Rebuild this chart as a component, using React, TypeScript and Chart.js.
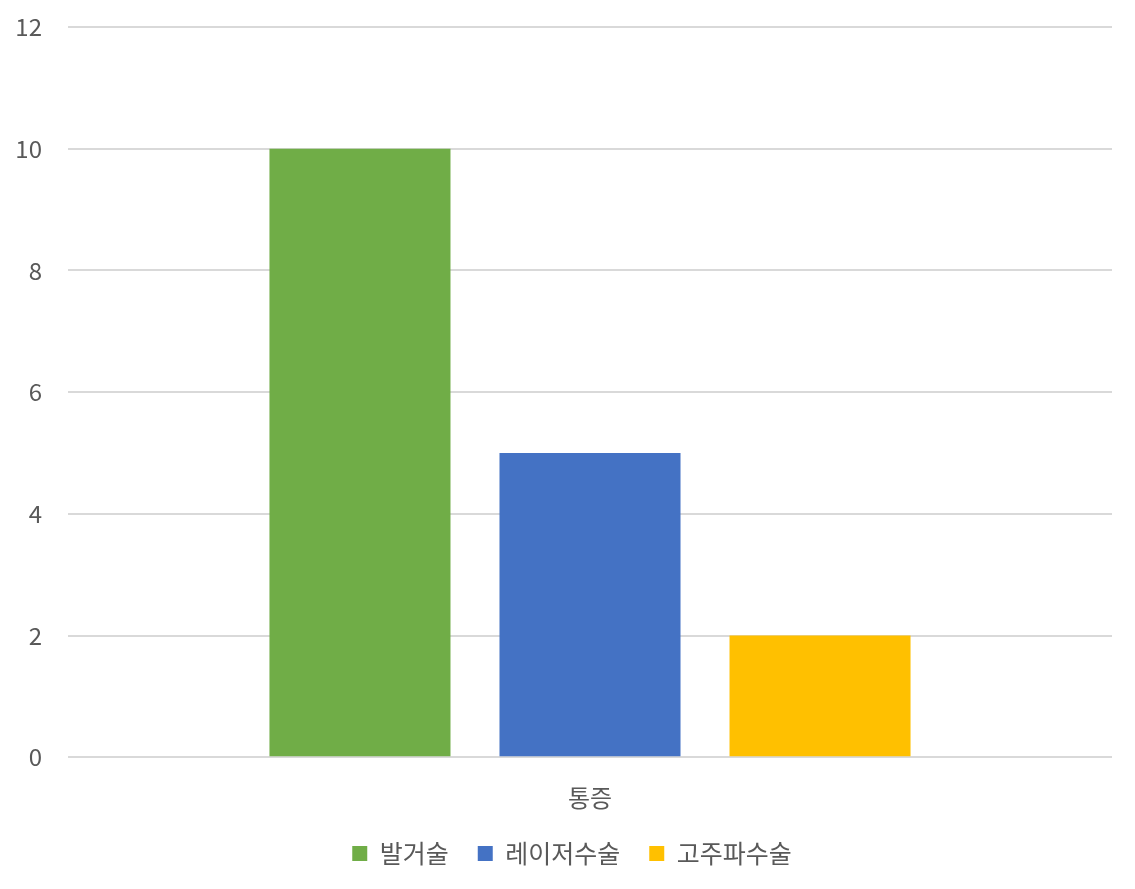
import { useEffect, useRef } from "react";
import { Chart } from "chart.js/auto";
import type { ChartConfiguration, Plugin } from "chart.js/auto";

const categories = ["통증"];
const seriesNames = ["발거술", "레이저수술", "고주파수술"];
const seriesValues = [[10], [5], [2]];
const seriesColors = ["#70AD47", "#4472C4", "#FFC000"];
const yTicks = [0, 2, 4, 6, 8, 10, 12];

const FONT = "'Noto Sans CJK KR', 'Noto Sans', sans-serif";
const TEXT = "#595959";

// the legend in the original sits a little right of the plot centre
const legendShift: Plugin = {
  id: "legendShift",
  afterLayout(chart) {
    const legend: any = (chart as any).legend;
    if (!legend) return;
    legend.left += 16;
    legend.right += 16;
  },
};

export default function App() {
  const canvasRef = useRef<HTMLCanvasElement>(null);
  const chartRef = useRef<Chart | null>(null);

  useEffect(() => {
    if (!canvasRef.current) return;
    if (chartRef.current) chartRef.current.destroy();

    const config: ChartConfiguration = {
      type: "bar",
      data: {
        labels: categories,
        datasets: seriesNames.map((name, i) => ({
          label: name,
          data: seriesValues[i],
          backgroundColor: seriesColors[i],
          barPercentage: 0.787,
          categoryPercentage: 0.661,
        })),
      },
      options: {
        animation: false,
        responsive: true,
        maintainAspectRatio: false,
        layout: { padding: { top: 27, right: 23, bottom: 13, left: 0 } },
        scales: {
          x: {
            afterFit: (scale: any) => {
              // pull the legend closer to the category label
              scale.height -= 18;
            },
            grid: { display: false },
            border: { display: false },
            ticks: {
              color: TEXT,
              font: { family: FONT, size: 24 },
              padding: 18,
            },
          },
          y: {
            min: yTicks[0],
            max: yTicks[yTicks.length - 1],
            afterFit: (scale: any) => {
              scale.width = 68;
              scale.paddingTop = 0;
              scale.paddingBottom = 0;
            },
            afterBuildTicks: (scale: any) => {
              scale.ticks = yTicks.map((v) => ({ value: v }));
            },
            grid: { color: "#D9D9D9", lineWidth: 2, drawTicks: false },
            border: { display: false },
            ticks: {
              color: TEXT,
              font: { family: FONT, size: 24 },
              padding: 26,
            },
          },
        },
        plugins: {
          legend: {
            position: "bottom",
            labels: {
              color: TEXT,
              font: { family: FONT, size: 25 },
              boxWidth: 15,
              boxHeight: 15,
              padding: 29,
            },
          },
          tooltip: { enabled: false },
        },
      },
      plugins: [legendShift],
    };

    chartRef.current = new Chart(canvasRef.current, config);
    return () => {
      if (chartRef.current) chartRef.current.destroy();
    };
  }, []);

  return (
    <div
      style={{
        position: "absolute",
        left: 0,
        top: 0,
        width: 1135,
        height: 889,
        background: "#fff",
      }}
    >
      <canvas ref={canvasRef}></canvas>
    </div>
  );
}
